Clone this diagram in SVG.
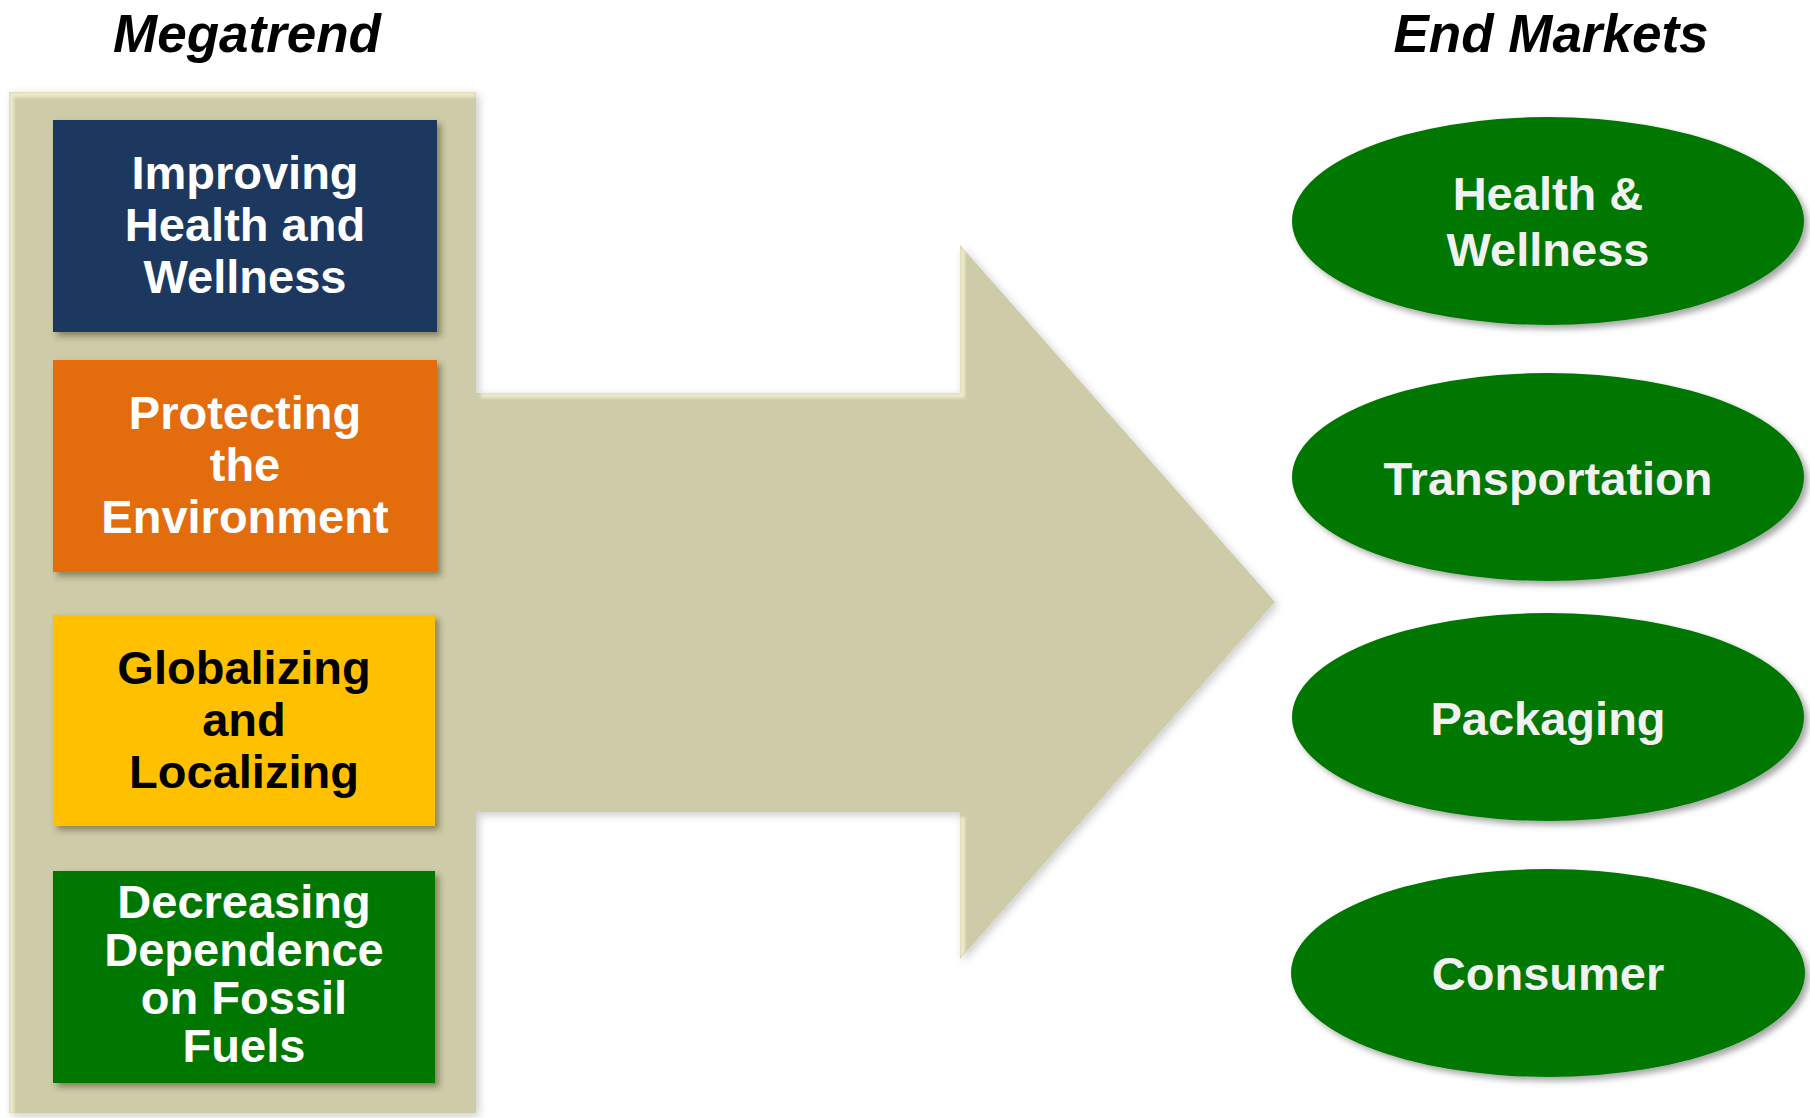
<svg xmlns="http://www.w3.org/2000/svg" width="1810" height="1118" viewBox="0 0 1810 1118">
<defs>
<style>
.title{font-family:"Liberation Sans",Arial,sans-serif;font-weight:bold;font-style:italic;font-size:53px;fill:#000;text-anchor:middle}
.lbl{font-family:"Liberation Sans",Arial,sans-serif;font-weight:bold;font-size:47px;text-anchor:middle}
.w{fill:#FFFFFF}
.k{fill:#000000}
.g{fill:#F2F2F2}
.tan{fill:#CECBA8}
.oval{fill:#007700}
</style>
<filter id="bevel" x="-5%" y="-5%" width="112%" height="112%">
<feGaussianBlur in="SourceAlpha" stdDeviation="4" result="blur"/>
<feOffset in="blur" dx="3" dy="3" result="offBlur"/>
<feFlood flood-color="#000" flood-opacity="0.2"/>
<feComposite in2="offBlur" operator="in" result="shadow"/>
<feOffset in="SourceAlpha" dx="5" dy="5" result="sh"/>
<feComposite in="SourceAlpha" in2="sh" operator="out" result="edge"/>
<feGaussianBlur in="edge" stdDeviation="1.5" result="edgeB"/>
<feFlood flood-color="#EDEACB"/>
<feComposite in2="edgeB" operator="in" result="hl"/>
<feComposite in="hl" in2="SourceAlpha" operator="in" result="hl2"/>
<feMerge><feMergeNode in="shadow"/><feMergeNode in="SourceGraphic"/><feMergeNode in="hl2"/></feMerge>
</filter>
<filter id="shd" x="-10%" y="-10%" width="125%" height="125%">
<feDropShadow dx="4" dy="4" stdDeviation="3" flood-color="#2a2a10" flood-opacity="0.45"/>
</filter>
<filter id="oshd" x="-10%" y="-10%" width="125%" height="125%">
<feDropShadow dx="4" dy="4" stdDeviation="3" flood-color="#000" flood-opacity="0.35"/>
</filter>
</defs>
<rect width="1810" height="1118" fill="#FFFFFF"/>

<text class="title" x="247" y="52">Megatrend</text>
<text class="title" x="1551" y="52">End Markets</text>

<g filter="url(#bevel)">
<g id="connectors">
<polygon id="bigArrow" class="tan" points="470,393 960,393 960,245 1275,602 960,959 960,812 470,812"/>
</g>
<g id="panel">
<rect class="tan" x="9" y="92" width="467" height="1021"/>
</g>
</g>

<g id="megatrend-health">
<rect filter="url(#shd)" x="53" y="120" width="384" height="212" fill="#1A375F"/>
<text class="lbl w" x="245"><tspan x="245" y="189">Improving</tspan><tspan x="245" y="241">Health and</tspan><tspan x="245" y="293">Wellness</tspan></text>
</g>

<g id="megatrend-environment">
<rect filter="url(#shd)" x="53" y="360" width="384" height="212" fill="#E36C0B"/>
<text class="lbl w" x="245"><tspan x="245" y="429">Protecting</tspan><tspan x="245" y="481">the</tspan><tspan x="245" y="533">Environment</tspan></text>
</g>

<g id="megatrend-global">
<rect filter="url(#shd)" x="53" y="615" width="382" height="211" fill="#FFC000"/>
<text class="lbl k" x="244"><tspan x="244" y="684">Globalizing</tspan><tspan x="244" y="736">and</tspan><tspan x="244" y="788">Localizing</tspan></text>
</g>

<g id="megatrend-fossil">
<rect filter="url(#shd)" x="53" y="871" width="382" height="212" fill="#007700"/>
<text class="lbl w" x="244"><tspan x="244" y="918">Decreasing</tspan><tspan x="244" y="966">Dependence</tspan><tspan x="244" y="1014">on Fossil</tspan><tspan x="244" y="1062">Fuels</tspan></text>
</g>

<g id="market-health">
<ellipse class="oval" filter="url(#oshd)" cx="1548" cy="221" rx="256" ry="104"/>
<text class="lbl g"><tspan x="1548" y="210">Health &amp;</tspan><tspan x="1548" y="266">Wellness</tspan></text>
</g>

<g id="market-transportation">
<ellipse class="oval" filter="url(#oshd)" cx="1548" cy="477" rx="256" ry="104"/>
<text class="lbl g" x="1548" y="495">Transportation</text>
</g>

<g id="market-packaging">
<ellipse class="oval" filter="url(#oshd)" cx="1548" cy="717" rx="256" ry="104"/>
<text class="lbl g" x="1548" y="735">Packaging</text>
</g>

<g id="market-consumer">
<ellipse class="oval" filter="url(#oshd)" cx="1548" cy="973" rx="257" ry="104"/>
<text class="lbl g" x="1548" y="990">Consumer</text>
</g>
</svg>
